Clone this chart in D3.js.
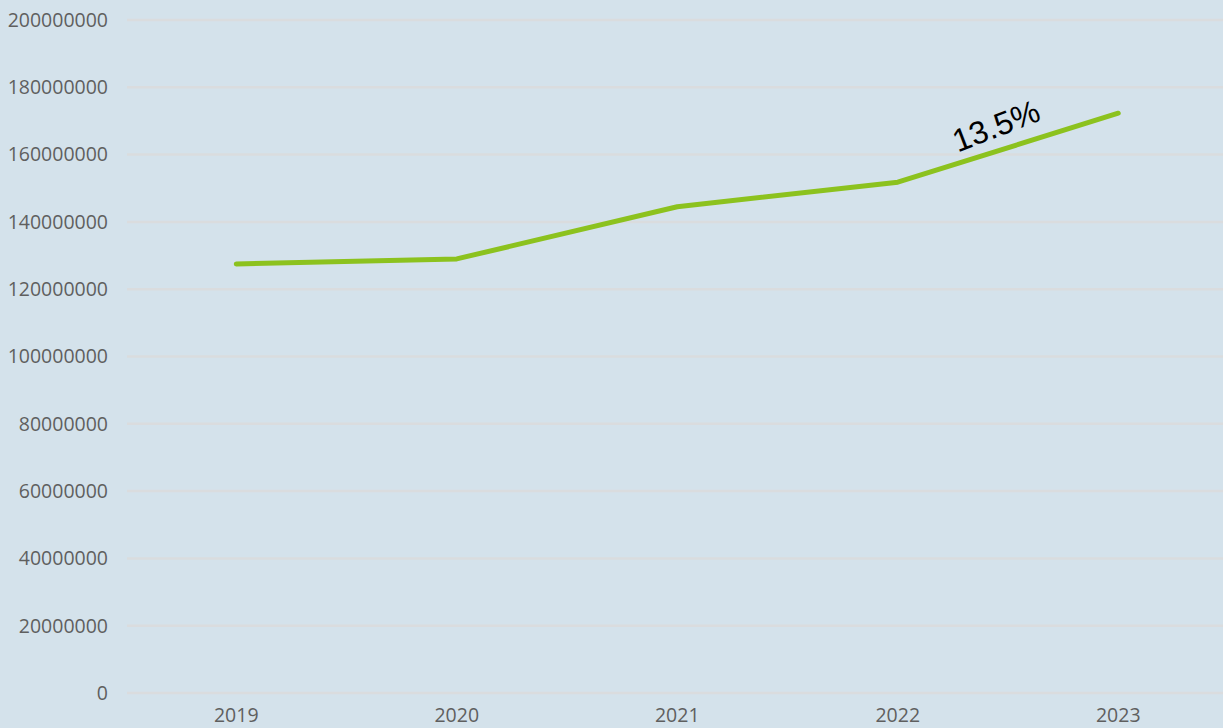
<!DOCTYPE html>
<html>
<head>
<meta charset="utf-8">
<script src="https://cdn.jsdelivr.net/npm/d3@7"></script>
<style>
    html, body { margin: 0; padding: 0; background: #d4e2eb; overflow: hidden; }
    svg { display: block; }
</style>
</head>
<body>
<div id="chart"></div>
<script>
const years = ['2019', '2020', '2021', '2022', '2023'];
const values = [127500000, 129000000, 144500000, 151800000, 172300000];
const yTicks = [0, 20000000, 40000000, 60000000, 80000000, 100000000, 120000000, 140000000, 160000000, 180000000, 200000000];
const growthLabel = '13.5%';

const WIDTH = 1223, HEIGHT = 728;

const svg = d3.select('#chart').append('svg')
    .attr('width', WIDTH)
    .attr('height', HEIGHT);

svg.append('rect')
    .attr('width', WIDTH)
    .attr('height', HEIGHT)
    .attr('fill', '#d4e2eb');

const x = d3.scaleBand()
    .domain(years)
    .range([126, 1228.5]);

const y = d3.scaleLinear()
    .domain([0, 200000000])
    .range([693, 20]);

// grid lines
svg.append('g')
    .selectAll('line')
    .data(yTicks)
    .join('line')
    .attr('x1', 127)
    .attr('x2', WIDTH)
    .attr('y1', d => y(d))
    .attr('y2', d => y(d))
    .attr('stroke', '#dadcde')
    .attr('stroke-width', 2.5);

// y labels
svg.append('g')
    .selectAll('text')
    .data(yTicks)
    .join('text')
    .attr('x', 108)
    .attr('y', d => y(d))
    .attr('dy', '0.35em')
    .attr('text-anchor', 'end')
    .attr('font-family', '"Open Sans", "Noto Sans", sans-serif')
    .attr('font-size', 19.5)
    .attr('fill', '#5f5f5f')
    .text(d => d);

// x labels
svg.append('g')
    .selectAll('text')
    .data(years)
    .join('text')
    .attr('x', d => x(d) + x.bandwidth() / 2)
    .attr('y', 722)
    .attr('text-anchor', 'middle')
    .attr('font-family', '"Open Sans", "Noto Sans", sans-serif')
    .attr('font-size', 19.5)
    .attr('fill', '#5f5f5f')
    .text(d => d);

const line = d3.line()
    .x((d, i) => x(years[i]) + x.bandwidth() / 2)
    .y(d => y(d));

svg.append('path')
    .datum(values)
    .attr('d', line)
    .attr('fill', 'none')
    .attr('stroke', '#8cc21e')
    .attr('stroke-width', 5)
    .attr('stroke-linecap', 'round')
    .attr('stroke-linejoin', 'round');

// growth annotation between last two points
const x1 = x(years[3]) + x.bandwidth() / 2, y1 = y(values[3]);
const x2 = x(years[4]) + x.bandwidth() / 2, y2 = y(values[4]);
const mx = (x1 + x2) / 2, my = (y1 + y2) / 2;

svg.append('text')
    .attr('transform', 'translate(' + (mx - 12) + ',' + (my - 22) + ') rotate(-21)')
    .attr('dy', '0.35em')
    .attr('text-anchor', 'middle')
    .attr('font-family', '"Liberation Sans", Arial, sans-serif')
    .attr('font-size', 32)
    .attr('fill', '#000')
    .text(growthLabel);
</script>
</body>
</html>
